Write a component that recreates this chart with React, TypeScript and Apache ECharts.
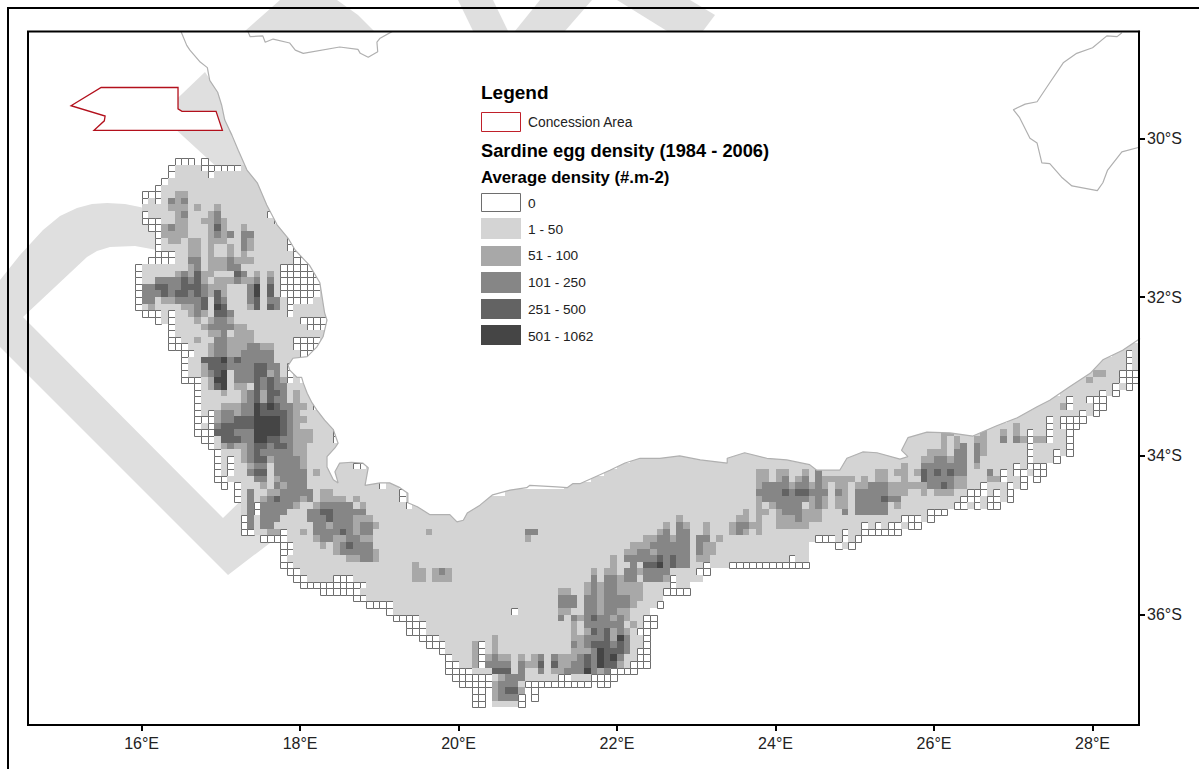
import React, { useEffect, useRef } from "react";
import * as echarts from "echarts";

// Grid rows: "row: tokens". row = twelfths of a degree south of 30S, token columns = twelfths of a degree east of 16E.
// Letters: e = 0, a = 1-50, b = 51-100, c = 101-250, d = 251-500, f = 501-1062. Later tokens override earlier ones.
const gridRows: string[] = [
  "3: e5-7 e9",
  "4: a5-16 e4 e9-14",
  "5: a5-17 e4 e10",
  "6: a4-17 e3",
  "7: a3-18 e2",
  "8: a3-19 e0-2 b5-6",
  "9: a1-19 e0 e2 c4 b5 c6",
  "10: a0-20 b4-6 b8 b11",
  "11: a1-20 e0 b5 c6 b10 c11 e19",
  "12: a3-21 e0-2 b5-6 b9-10 c11 b12 e20",
  "13: a3-21 e1-2 b3 c4 b5-6 b10 d11 b12 b15",
  "14: a3-22 e2 b3-6 b10 c11 b12 c13 c15-16",
  "15: a3-23 e2 b4-5 b7-8 b10-12 c15 b16 e22",
  "16: a3-23 e2 b7-8 b10 b13 c15 b16 e22-23",
  "17: a5-24 e2-4 b7-8 b10 b13 b15 e23-24",
  "18: a5-25 e1-4 c7-8 b10-12 c13 b14-16 e23-25",
  "19: a0-26 e-1 b7 c8 b10-12 c13-14 e21-25",
  "20: a0-27 e-1 b5 c6 b7 d8 b9-10 d14 c15 b17 b19 e21-26",
  "21: a0-27 e-1 c2-5 d6 c7 d8 b9 b11-13 c14 b15-16 c17 c19 e21-26",
  "22: a0-28 e-1 c0-1 d2-3 c4-5 d6-8 c9 b10-12 c16 f17 d19 e21-26",
  "23: a0-28 e-1 c0-2 d3 c4 d5-6 c7 d8 c9 b10 d11 b12 c16 f17 d19 e21-26",
  "24: a0-28 e-1 c0-1 b3-4 c5-8 d9 d11 c12 c16 d17 c19-20 e22-25",
  "25: a0-28 e-1 b1 b6-7 c8 d9 f11 d12 b16 d17 d19 c20 e22",
  "26: a3-28 e0-2 e4 b7 c8 b9 d11-12 c13 e22",
  "27: a3-28 e2 e4 b8 b10 c11-12 b13 e24-27",
  "28: a5-28 e4 b9 c10-13 b14-15 e25-27",
  "29: a5-28 e4 b10-11 c12 b14-16",
  "30: a6-28 e4-5 b8 c11-12 b13-16 e23-26",
  "31: a7-27 e4-6 b10 c11-12 b13-15 c16-17 b18-19 e23-26 a148-150",
  "32: a8-26 e6-7 b10 c11-12 b13-14 c15-19 e24-25 a147-148 e149 a150",
  "33: a7-24 e6 d9-11 f12 c13 d14 c15-19 a145-148 e149 a150",
  "34: a7-23 e6 b9 d10-12 c13-16 d17-18 c19-20 e22 a144-148 e149 a150",
  "35: a7-23 e6 b9 c10 d11 f12 c14-16 d17-18 b19 c20 e22 a142-147 b144-145 e148-150",
  "36: a9-23 e6-8 b10 f11-12 c14-16 d17 c18 d19 c20 b21 e22 a141-147 b143 e148-150",
  "37: a9-24 e8 b10 d11 f12 b14-15 d17 c18 d19 c20-21 a140-146 e147 a148 e149",
  "38: a9-25 e8 b12 b15 c16 d17 b18 d19-20 c21 b23 a139-144 e145 a146 e147",
  "39: a9-26 e8 b15 c16 d17 b18 d19 c20-21 b23 a137-142 e140 e143-145",
  "40: a9-26 e8 b12-14 c15-16 f17 d18 f19 d20 c21-22 b23-24 e26 a135-143 b139 e140 e144-145",
  "41: a9-27 e8 e10 b11 c12-13 b14 c15-16 f17 d18-21 c22 b23 a133-143 e142 e144",
  "42: a11-28 e8-10 b11 c12-13 d14-16 f17-20 d21 c22 b23-24 a131-138 e137 e139-142",
  "43: a9-29 e8 e10 c11 d12-16 f17-20 d21 c22 b23 a128-138 b132 e137 e139-141",
  "44: a11-30 e8-10 d11-13 c14-16 f17-20 d21 c22 b23-25 e29 a117-139 b121-122 b127 b130 b132 e134 e137 e140",
  "45: a11-30 e9-10 d12-14 c15-16 f17-18 d19-20 c21-22 b23-25 e29 a114-139 b121 b123 b126-127 c130 c132 b133 e134 b135-136 e137 e140",
  "46: a11-30 e10 b12 c13 b14-15 c16 d17-18 c19 d20-21 c22 b23-24 a113-139 b121 b123 c124 c126 b127 e134 e140",
  "47: a12-29 e11 b15 c16 d17 c18-22 b23-24 a88-139 b119-121 c123-124 c126 b127 e134 e138 e140",
  "48: a12-29 e11 e13 b15 c16 d17-18 b19 c20-23 b24 a74-137 b118-119 c120-121 b122 c123-124 c126 e134 e138",
  "49: a12-34 e11 e13 b16 c17-18 a19 c20-23 b24 e32-33 a72-133 b115 c118-124 b126 e132 e134-136",
  "50: a12-34 e11 e13 c16 d17-18 a19 c20-24 b26 a70-134 b93-94 b96-97 b100 c102 b111-112 b114-115 b117 d118 c119 d120 c121 d122 c123-124 c128 e130 e132-133 e135-136",
  "51: a13-34 e11-12 c17-18 a19 b20 c21-24 a68-132 b93-94 b96 c97 b99 c100 c102 b103-107 b109 b111-112 b115 d118 c119-122 b123-124 b128-129 e130 e133 e135",
  "52: a15-38 e12 e14 b18 a19 c20 b21 c22-24 e36 a64-132 b93 c94-97 b98 c99-100 b101 c102 b103 b105-106 b108-109 c110-112 b113-118 c119-120 d121 c122 b123-124 e127 e131 e133",
  "53: a15-40 e14 c16 b19-20 c21-25 b27-28 e39 a55-130 c93-96 d97 c98 d99-100 c101-103 c105 b106 c108-112 b113-115 b118 b120-122 e125-127 e129 e131",
  "54: a15-40 e14 c16 b18 c19 d20 c21-23 b24 c25 b27-30 b32 e39 a52-130 b93 c94-100 b101 c102 b103 b105-106 c108-111 d112 c113-114 e124-126 e128-129 e131",
  "55: a15-42 c16 e17 c18-22 b23 b26 c27-31 b33 e40 a50-127 b93 b95 c96-99 b101 c102 b103 b105-106 c108-112 b114 e123-124 e126 e128-129",
  "56: a15-44 c16 e17 c18-21 c25-26 d27-28 c29-33 a49-118 b91 b93-94 b96 c97-99 b100-102 c106 c108-112 e119-121",
  "57: a16-118 e15 c16 c18-20 c25-27 d28 c29-31 b32-34 b81 b90-91 b93 b96-98 c99 b100-102 e115-117 e119",
  "58: a16-115 e15 c16 c18-19 c26-27 b28 c29-31 b32 c33-34 b35 b79 c81 b82 b85 b89 c90-91 b92-93 b96-100 e109 e111 e113-114 e116-117",
  "59: a17-108 e15-16 b19-20 e21 b24 c26-29 d30 c31 b32 c33-34 b43 c58-59 b78 c79 c81-82 b85 b89 c90 b91 b93 e106 e109-114",
  "60: a22-101 e18-21 b26 c27-28 b29-30 c31-32 b33-34 b58 b76-77 c78-79 b80 c81-82 c84-85 b87 e102-104 a105 e106 a107 e108",
  "61: a23-100 e21-22 b27 b29 c30 d31 c32-34 b74-76 c77-82 c84 b85-86 e105 a106 e107",
  "62: a23-100 e21-22 b29 c30-34 b35 b73-74 c75-76 b77 c78-82 c84 b85-86",
  "63: a22-100 e21 b31-32 c33-34 b35 b71 c73-77 d78 c79 d80 c81-82 b84-85 e98",
  "64: a23-88 e21-22 b41 b71 c74 d76-77 f78 c79 d80 c81-82 e85 e89-100",
  "65: a24-83 e22-23 b41-42 b44 c45 b46 b68 b70-71 c73-74 b75 c76-79 e84-85",
  "66: a25-84 e23-24 e29-31 b41-42 b44-46 c68 c70-71 b72 c73-74 a75 c76-78 b79 e80",
  "67: a34-82 e24-33 b67 c68 b69 c70-71 b72-75 e80",
  "68: a33-78 e27-32 b63-64 b67 c68 b69 c70-71 b72-75 e79-82",
  "69: a34-78 e32-33 c63-65 c67-68 b69 c70-73 b74-75",
  "70: a38-77 e34-37 c63-65 c67-68 b69 c70-73 b74 e78",
  "71: a38-76 e37 e56 b63-64 c67-68 b69 c70-71 b72-73",
  "72: a42-75 e38-41 c63 c65 b66 c67 d68 c69-70 b71 c72 b73 e76-77",
  "73: a43-75 e40-42 b65 c67-72 b74 e76-77",
  "74: a43-74 e40-42 b65 b67 d68 c69 d70 b71 c72 b73 e75-76",
  "75: a45-75 e42-44 b53 b65-66 c67-69 d70 b71 f72 c73 e76",
  "76: a46-75 e43-45 b50 e51 b53 c65 b66 c67 d68-70 c71 d72 c73 e76",
  "77: a46-74 e45 b50 e51 b53 b65-67 c68 f69 d70-72 c73 e75-76",
  "78: a47-74 e46 b50 e51 b52 c53 b54-55 b57 b59 c60 c62 b63-65 c66 d67 c68 f69 d70 f71 c72 e75-76",
  "79: a48-73 e46-47 b50 e51 c52-55 c57 b58-59 d60 d62 b63-64 c65-66 d67 c68 f69 d70-71 b72 e74-76",
  "80: a50-70 e46-49 d53-55 c57 c60 b62-63 c64-66 f67 c68 b69 c70 e71-74",
  "81: a53-67 e47-52 b54 c55-57 e63-64 e68-71",
  "82: a53-57 e48-52 b53 c54-56 e58-67 e69-70",
  "83: e50-51 b53 c54 d55-56 b57 e59",
  "84: e50-51 b53 c54-56 e57 e59",
  "85: e50-51 a53-56 e57",
];

const classColors = ["#ffffff", "#d4d4d4", "#a8a8a8", "#868686", "#636363", "#454545"];
const classLetters = "eabcdf";
const cellOutline = "#6e6e6e";

const westCoast: [number, number][] = [
  [16.5, 28.66], [16.57, 28.83], [16.61, 28.89], [16.74, 29.04], [16.83, 29.11], [16.86, 29.27], [16.96, 29.42],
  [17.01, 29.58], [17.05, 29.77], [17.14, 29.96], [17.22, 30.15], [17.33, 30.4], [17.46, 30.56], [17.58, 30.84],
  [17.71, 31.09], [17.85, 31.26], [17.94, 31.41], [18.12, 31.6], [18.25, 31.82], [18.31, 32.2], [18.34, 32.29],
  [18.29, 32.5], [18.21, 32.63], [18.09, 32.75], [17.91, 32.77], [17.85, 32.86], [17.87, 32.92], [17.96, 33.01],
  [18.02, 33.01], [18.04, 33.08], [18.09, 33.21], [18.15, 33.33], [18.21, 33.42], [18.31, 33.55], [18.42, 33.67],
  [18.48, 33.84], [18.44, 33.9], [18.34, 34.01], [18.34, 34.14], [18.42, 34.3], [18.48, 34.34], [18.44, 34.2],
  [18.5, 34.09], [18.65, 34.08], [18.79, 34.09], [18.86, 34.15], [18.82, 34.37], [19.01, 34.34], [19.13, 34.34],
  [19.26, 34.4], [19.36, 34.47], [19.36, 34.59], [19.48, 34.64], [19.64, 34.74], [19.89, 34.74], [19.98, 34.83],
  [20.06, 34.81], [20.11, 34.72], [20.27, 34.62], [20.43, 34.49], [20.65, 34.43], [20.86, 34.4], [20.9, 34.37],
  [21.24, 34.39], [21.37, 34.4], [21.44, 34.35], [21.53, 34.35], [21.91, 34.18], [22.1, 34.09], [22.29, 34.03],
  [22.54, 34.03], [22.79, 34.0], [23.05, 34.05], [23.39, 34.09], [23.39, 34.03], [23.61, 33.96], [23.89, 34.03],
  [24.14, 34.05], [24.43, 34.11], [24.52, 34.18], [24.81, 34.18], [24.9, 34.03], [25.1, 33.95], [25.28, 33.96],
  [25.57, 34.04], [25.67, 34.01], [25.59, 33.93], [25.67, 33.77], [25.91, 33.7], [26.2, 33.71], [26.49, 33.75],
  [26.79, 33.62], [27.05, 33.52], [27.3, 33.38], [27.46, 33.3], [27.71, 33.13], [27.97, 32.96], [28.13, 32.79],
  [28.38, 32.67], [28.6, 32.52],
];
const landCorners: [number, number][] = [[28.7, 32.52], [28.7, 28.5], [16.5, 28.5]];
const northBorder: [number, number][] = [
  [17.34, 28.65], [17.37, 28.72], [17.53, 28.71], [17.56, 28.79], [17.66, 28.75], [17.87, 28.8], [17.94, 28.89],
  [18.04, 28.93], [18.5, 28.85], [18.73, 28.88], [18.76, 28.93], [18.86, 28.98], [18.98, 28.91], [18.97, 28.79],
  [19.01, 28.74], [19.17, 28.65],
];
const eastBorder: [number, number][] = [
  [28.37, 28.67], [28.31, 28.72], [28.18, 28.71], [28.0, 28.86], [27.8, 28.93], [27.63, 29.05], [27.46, 29.3],
  [27.3, 29.54], [27.15, 29.57], [27.0, 29.64], [27.08, 29.74], [27.21, 30.0], [27.3, 30.06], [27.36, 30.31],
  [27.46, 30.32], [27.61, 30.49], [27.74, 30.6], [28.06, 30.66], [28.13, 30.56], [28.19, 30.4], [28.37, 30.17],
  [28.6, 30.11],
];
const concession: [number, number][] = [
  [15.49, 29.36], [16.46, 29.36], [16.46, 29.63], [16.51, 29.66], [16.94, 29.66], [17.02, 29.9], [15.4, 29.9],
  [15.53, 29.78], [15.54, 29.72], [15.11, 29.59], [15.49, 29.36],
];

const lonTicks = [16, 18, 20, 22, 24, 26, 28];
const latTicks = [-36, -34, -32, -30];
const legendLabels = ["0", "1 - 50", "51 - 100", "101 - 250", "251 - 500", "501 - 1062"];
const legendTop = [193, 218, 246, 272, 299, 325];
const legendHeight = [19, 21, 20, 21, 20, 20];
const legendTextY = [203, 229.5, 255.5, 282.5, 309.5, 336.5];

const watermarkColor = "#dfdfdf";
const watermarkShapes: number[][][] = [
  [[245, 31], [280, 0], [337, 0], [358, 15], [374, 31]],
  [[458, 0], [493, 0], [508, 31], [473, 31]],
  [[540, 0], [592, 0], [565, 31], [515, 31]],
  [[617, 0], [690, 0], [715, 15], [703, 31], [667, 31]],
  [[205, 72], [209, 78], [218, 92], [222, 105], [225, 120], [232, 135], [238, 150], [247, 170], [220, 170], [160, 115]],
  [[0, 280], [20, 255], [43, 230], [60, 216], [77, 208], [92, 204], [107, 203], [125, 204], [140, 207], [200, 225],
   [200, 275], [157, 250], [135, 246], [110, 247], [97, 251], [87, 257], [23, 317], [223, 518], [262, 480], [300, 520],
   [228, 575], [0, 347]],
];

function buildCells(): number[][] {
  const cells = new Map<string, number[]>();
  for (const line of gridRows) {
    const [rowPart, tokenPart] = line.split(":");
    const row = Number(rowPart);
    for (const token of tokenPart.trim().split(/\s+/)) {
      const m = token.match(/^([eabcdf])(-?\d+)(?:-(\d+))?$/);
      if (!m) continue;
      const klass = classLetters.indexOf(m[1]);
      const start = Number(m[2]);
      const end = m[3] !== undefined ? Number(m[3]) : start;
      for (let c = start; c <= end; c++) {
        cells.set(row + "_" + c, [16 + c / 12, -(30 + row / 12), klass]);
      }
    }
  }
  const all = Array.from(cells.values());
  return all.filter((d) => d[2] === 0).concat(all.filter((d) => d[2] !== 0));
}

function toSeriesPoints(list: [number, number][]) {
  return list.map(([lon, lat]) => [lon, -lat]);
}

const FONT = "'Liberation Sans', Arial, sans-serif";

export default function App() {
  const ref = useRef<HTMLDivElement>(null);
  useEffect(() => {
    if (!ref.current) return;
    const chart = echarts.init(ref.current, undefined, { renderer: "svg" });
    const coastStyle = { color: "#b0b0b0", width: 1.2 };
    const lineSeries = (data: number[][]) => ({
      type: "line", data, showSymbol: false, symbol: "none", lineStyle: coastStyle, silent: true, z: 4, clip: true,
    });
    const legendGraphics: any[] = [];
    const text = (x: number, y: number, t: string, size: number, bold = false) => ({
      type: "text", x, y, z: 30,
      style: { text: t, fill: bold ? "#000" : "#222", font: `${bold ? "bold " : ""}${size}px ${FONT}`, textVerticalAlign: "middle", textAlign: "left" },
    });
    legendGraphics.push(text(481, 92.5, "Legend", 19, true));
    legendGraphics.push({ type: "rect", z: 30, shape: { x: 481.5, y: 112.5, width: 39, height: 19 }, style: { fill: "#fff", stroke: "#c0202a", lineWidth: 1 } });
    legendGraphics.push(text(528, 122.5, "Concession Area", 13.8));
    legendGraphics.push(text(481, 150.5, "Sardine egg density (1984 - 2006)", 18.25, true));
    legendGraphics.push(text(481, 177, "Average density (#.m-2)", 16.75, true));
    legendLabels.forEach((label, i) => {
      legendGraphics.push({
        type: "rect", z: 30,
        shape: i === 0 ? { x: 481.5, y: legendTop[i] + 0.5, width: 39, height: legendHeight[i] - 1 } : { x: 481, y: legendTop[i], width: 40, height: legendHeight[i] },
        style: { fill: classColors[i], stroke: i === 0 ? cellOutline : undefined, lineWidth: i === 0 ? 1 : 0 },
      });
      legendGraphics.push(text(528, legendTextY[i], label, 13.7));
    });
    const watermark = watermarkShapes.map((points) => ({
      type: "polygon", z: -1, shape: { points }, style: { fill: watermarkColor },
    }));
    const frames = [
      { type: "polyline", z: 40, shape: { points: [[8, 770], [8, 8], [1200, 8]] }, style: { stroke: "#000", lineWidth: 2, fill: "none" } },
      { type: "rect", z: 40, shape: { x: 28, y: 31.5, width: 1111, height: 693.5 }, style: { stroke: "#000", lineWidth: 2, fill: "none" } },
    ];
    chart.setOption({
      animation: false,
      backgroundColor: "#fff",
      grid: { left: 28, right: 60, top: 31.5, bottom: 44, show: false },
      xAxis: {
        type: "value", min: 14.567, max: 28.586, position: "bottom",
        splitLine: { show: false },
        axisLine: { show: true, onZero: false, lineStyle: { color: "#000", width: 2 } },
        axisTick: { show: true, length: 6, customValues: lonTicks, lineStyle: { color: "#000", width: 2 } },
        axisLabel: { customValues: lonTicks, formatter: (v: number) => `${v}°E`, color: "#222", fontSize: 16, fontFamily: FONT, margin: 10 },
      },
      yAxis: {
        type: "value", min: -37.389, max: -28.655, position: "right",
        splitLine: { show: false },
        axisLine: { show: true, onZero: false, lineStyle: { color: "#000", width: 2 } },
        axisTick: { show: true, length: 6, customValues: latTicks, lineStyle: { color: "#000", width: 2 } },
        axisLabel: { customValues: latTicks, formatter: (v: number) => `${-v}°S`, color: "#222", fontSize: 16, fontFamily: FONT, margin: 8 },
      },
      graphic: [{ elements: [...watermark, ...legendGraphics, ...frames] }],
      series: [
        {
          type: "custom", coordinateSystem: "cartesian2d", data: buildCells(), z: 2, silent: true, clip: true, progressive: 0,
          encode: { x: 0, y: 1 },
          renderItem: (_: any, api: any) => {
            const lon = api.value(0), lat = api.value(1), klass = api.value(2);
            const p0 = api.coord([lon, lat]);
            const p1 = api.coord([lon + 1 / 12, lat - 1 / 12]);
            const x = Math.round(p0[0]), y = Math.round(p0[1]);
            const w = Math.round(p1[0]) - x, h = Math.round(p1[1]) - y;
            if (klass === 0) {
              return { type: "rect", shape: { x: x + 0.5, y: y + 0.5, width: w, height: h }, style: { fill: "#fff", stroke: cellOutline, lineWidth: 1 } };
            }
            return { type: "rect", shape: { x, y, width: w, height: h }, style: { fill: classColors[klass] } };
          },
        },
        {
          type: "custom", coordinateSystem: "cartesian2d", data: [toSeriesPoints(westCoast)[0]], z: 3, silent: true, clip: true,
          encode: { x: 0, y: 1 },
          renderItem: (_: any, api: any) => ({
            type: "polygon",
            shape: { points: toSeriesPoints([...westCoast, ...landCorners]).map((p) => api.coord(p)) },
            style: { fill: "#fff" },
          }),
        },
        lineSeries(toSeriesPoints(westCoast)),
        lineSeries(toSeriesPoints(northBorder)),
        lineSeries(toSeriesPoints(eastBorder)),
        {
          type: "custom", coordinateSystem: "cartesian2d", data: [toSeriesPoints(concession)[0]], z: 5, silent: true,
          encode: { x: 0, y: 1 },
          renderItem: (_: any, api: any) => ({
            type: "polygon",
            shape: { points: toSeriesPoints(concession).map((p) => api.coord(p)) },
            style: { fill: "#fff", stroke: "#b3101c", lineWidth: 1.3 },
          }),
        },
      ],
    });
    return () => chart.dispose();
  }, []);
  return <div ref={ref} style={{ position: "absolute", left: 0, top: 0, width: 1199, height: 769 }} />;
}
